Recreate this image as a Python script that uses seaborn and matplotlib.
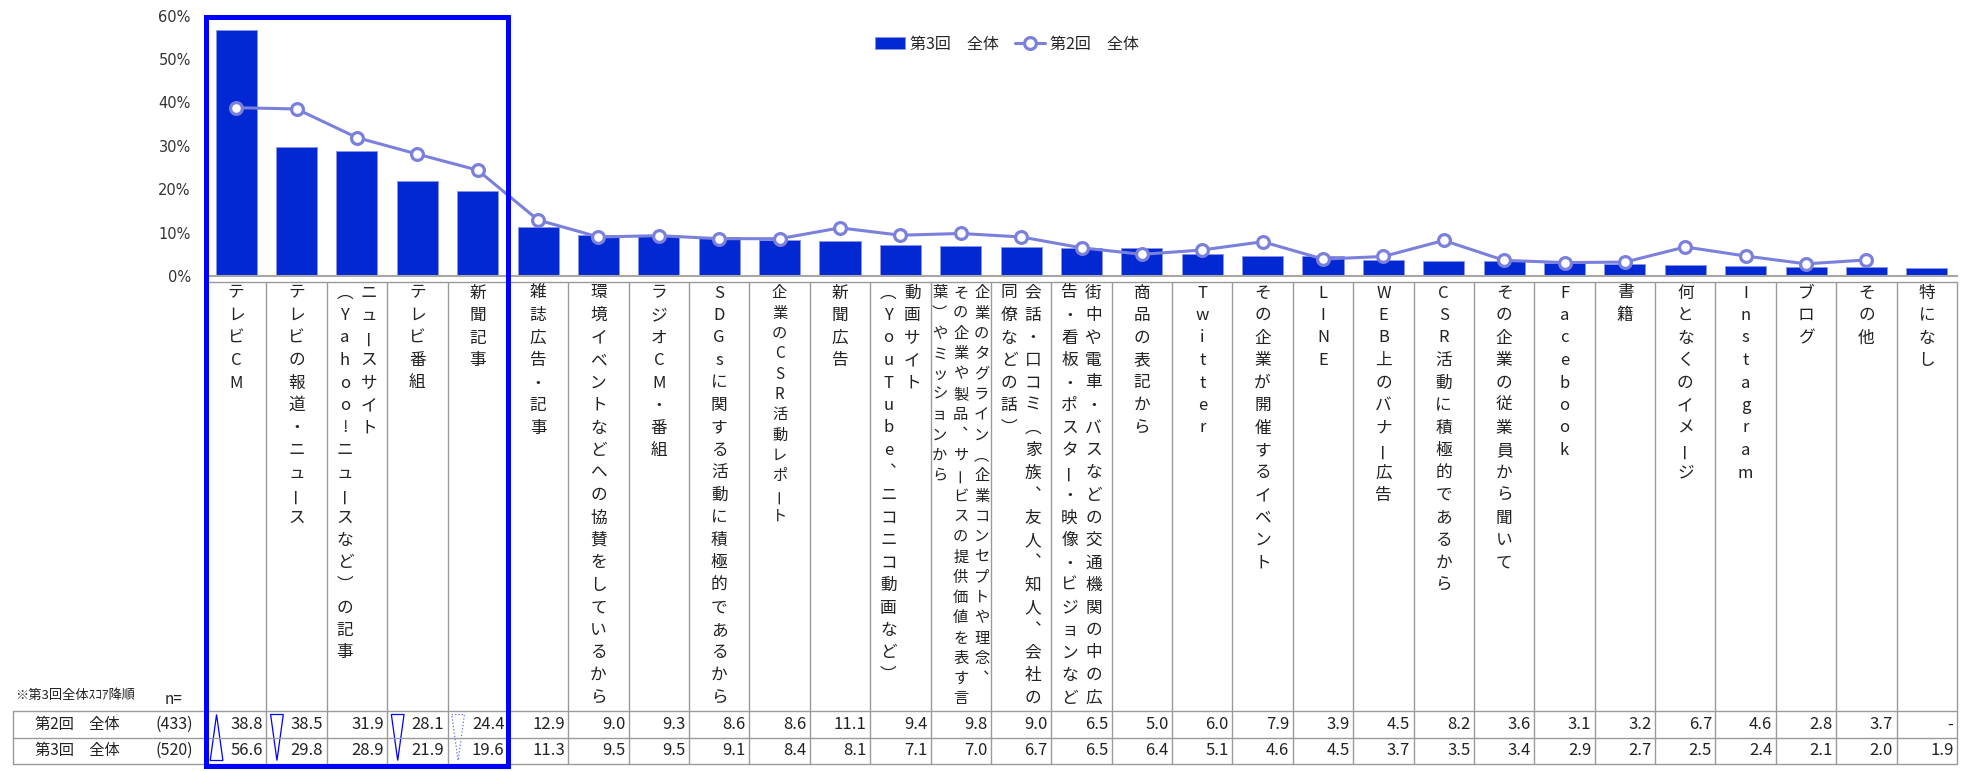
import numpy as np
import pandas as pd
import matplotlib
matplotlib.use("Agg")
import matplotlib.pyplot as plt
import seaborn as sns
from matplotlib import transforms as mtransforms
from matplotlib.patches import Polygon, Rectangle

# ------------------------------
# data
# ------------------------------
labels = [
    "テレビCM",
    "テレビの報道・ニュース",
    "ニュースサイト\n（Yahoo!ニュースなど）の記事",
    "テレビ番組",
    "新聞記事",
    "雑誌広告・記事",
    "環境イベントなどへの協賛をしているから",
    "ラジオCM・番組",
    "SDGsに関する活動に積極的であるから",
    "企業のCSR活動レポート",
    "新聞広告",
    "動画サイト\n（YouTube、ニコニコ動画など）",
    "企業のタグライン（企業コンセプトや理念、\nその企業や製品、サービスの提供価値を表す言\n葉）やミッションから",
    "会話・口コミ（家族、友人、知人、会社の\n同僚などの話）",
    "街中や電車・バスなどの交通機関の中の広\n告・看板・ポスター・映像・ビジョンなど",
    "商品の表記から",
    "Twitter",
    "その企業が開催するイベント",
    "LINE",
    "WEB上のバナー広告",
    "CSR活動に積極的であるから",
    "その企業の従業員から聞いて",
    "Facebook",
    "書籍",
    "何となくのイメージ",
    "Instagram",
    "ブログ",
    "その他",
    "特になし",
]

round3 = [56.6, 29.8, 28.9, 21.9, 19.6, 11.3, 9.5, 9.5, 9.1, 8.4, 8.1, 7.1, 7.0, 6.7,
          6.5, 6.4, 5.1, 4.6, 4.5, 3.7, 3.5, 3.4, 2.9, 2.7, 2.5, 2.4, 2.1, 2.0, 1.9]
round2 = [38.8, 38.5, 31.9, 28.1, 24.4, 12.9, 9.0, 9.3, 8.6, 8.6, 11.1, 9.4, 9.8, 9.0,
          6.5, 5.0, 6.0, 7.9, 3.9, 4.5, 8.2, 3.6, 3.1, 3.2, 6.7, 4.6, 2.8, 3.7, np.nan]

series_names = ["第3回　全体", "第2回　全体"]
row_headers = ["第2回　全体", "第3回　全体"]
n_counts = ["(433)", "(520)"]
note_text = "※第3回全体ｽｺｱ降順"

# significance marks (第3回 vs 第2回)
sig_marks = ["up", "down", "", "down", "weak"] + [""] * 24
small_labels = [9, 12]
n_highlight = 5

df = pd.DataFrame({"item": labels, "r3": round3, "r2": round2})

# ------------------------------
# style
# ------------------------------
sns.set_style("white")
plt.rcParams["font.family"] = ["Noto Sans CJK JP", "DejaVu Sans"]

BAR = "#0228D4"
LINE = "#7A80DC"
GRID = "#9a9a9a"
TXT = "#222222"

W, H = 1971, 771
fig = plt.figure(figsize=(W / 100, H / 100), dpi=100)
ax = fig.add_axes([206 / W, 1 - 276 / H, (1957 - 206) / W, (276 - 15.7) / H])

sns.barplot(data=df, x="item", y="r3", color=BAR, saturation=1, width=0.68,
            edgecolor="#8a96e6", linewidth=0.7, ax=ax, label=series_names[0])
sns.pointplot(data=df, x="item", y="r2", color=LINE, errorbar=None, markers="o",
              markersize=8.5, markeredgewidth=2.3, linewidth=2.2, ax=ax,
              label=series_names[1])
for ln in ax.lines:
    ln.set_markerfacecolor("white")
    ln.set_markeredgecolor(LINE)
if ax.get_legend() is not None:
    ax.get_legend().remove()

ax.set_xlim(-0.5, len(labels) - 0.5)
ax.set_ylim(0, 60)
ax.set_yticks(range(0, 61, 10))
ax.set_yticklabels([f"{v}%" for v in range(0, 61, 10)], fontfamily="DejaVu Sans",
                   fontsize=10.5, color="#333333")
ax.set_xticks([])
ax.set_xlabel("")
ax.set_ylabel("")
ax.tick_params(axis="y", length=3, color=GRID, pad=8)
for s in ["top", "right"]:
    ax.spines[s].set_visible(False)
ax.spines["bottom"].set_color("#a6a6a6")
ax.spines["bottom"].set_linewidth(1.5)
ax.spines["left"].set_color(GRID)

h, l = ax.get_legend_handles_labels()
order = [l.index(series_names[0]), l.index(series_names[1])]
fig.legend([h[i] for i in order], [l[i] for i in order], loc="center",
           bbox_to_anchor=(1007 / W, 1 - 44 / H), ncol=2, frameon=False,
           handlelength=1.9, handletextpad=0.3, columnspacing=1.0,
           prop={"size": 11.5})

# ------------------------------
# category label grid + table
# ------------------------------
pix = mtransforms.Affine2D().scale(1 / W, -1 / H).translate(0, 1) + fig.transFigure
tr = mtransforms.blended_transform_factory(ax.transData, pix)
n = len(labels)
x_lo, x_hi = -0.5, n - 0.5

top_grid, row1, row2, row3 = 282, 711, 737.5, 764
lk = dict(color=GRID, lw=1.0, transform=tr, clip_on=False)
ax.plot([x_lo, x_hi], [top_grid, top_grid], **lk)
for yy in [row1, row2, row3]:
    ax.plot([x_lo, x_hi], [yy, yy], **lk)
for k in range(n + 1):
    ax.plot([k - 0.5, k - 0.5], [top_grid, row3], **lk)
pk = dict(color=GRID, lw=1.0, transform=pix, clip_on=False)
for yy in [row1, row2, row3]:
    ax.plot([13, 206], [yy, yy], **pk)
ax.plot([13, 13], [row1, row3], **pk)

# vertical writing: brackets/commas use vertical forms, long vowel mark is rotated
VERT = {"（": "︵", "）": "︶", "、": "︑"}
for i, lab in enumerate(labels):
    lines = lab.split("\n")
    small = i in small_labels
    fs = 11 if small else 12
    step = 20.3 if small else 22.5
    dx_step = 21 if len(lines) >= 3 else 24
    for j, line in enumerate(lines):
        dx = ((len(lines) - 1) / 2 - j) * dx_step
        t = mtransforms.offset_copy(tr, fig=fig, x=dx, y=0, units="dots")
        for c, ch in enumerate(line):
            rot = 90 if ch == "ー" else 0
            ax.text(i, 293 + c * step, VERT.get(ch, ch), transform=t, ha="center",
                    va="center", fontsize=fs, color=TXT, clip_on=False,
                    rotation=rot, rotation_mode="anchor")

# values
row_y = [(row1 + row2) / 2, (row2 + row3) / 2]
for r, vals in enumerate([round2, round3]):
    t = mtransforms.offset_copy(tr, fig=fig, x=-3.5, y=0, units="dots")
    for i, v in enumerate(vals):
        s = "-" if np.isnan(v) else f"{v:.1f}"
        ax.text(i + 0.5, row_y[r], s, transform=t, ha="right", va="center",
                fontsize=12, color=TXT, clip_on=False)
    ax.text(35, row_y[r], row_headers[r], transform=pix, ha="left", va="center",
            fontsize=11, color=TXT)
    ax.text(193, row_y[r], n_counts[r], transform=pix, ha="right", va="center",
            fontsize=11.5, color=TXT)
ax.text(183, 699, "n=", transform=pix, ha="right", va="center", fontsize=11, color=TXT)
ax.text(15, 695, note_text, transform=pix, ha="left", va="center", fontsize=9.5, color=TXT)

# significance triangles
for i, m in enumerate(sig_marks):
    if not m:
        continue
    a, b, c = i - 0.5 + 0.07, i - 0.5 + 0.175, i - 0.5 + 0.28
    if m == "up":
        pts = [(b, row1 + 3.5), (c, row3 - 3.5), (a, row3 - 3.5)]
    else:
        pts = [(a, row1 + 3.5), (c, row1 + 3.5), (b, row3 - 3.5)]
    ls = ":" if m == "weak" else "-"
    col = "#5a6bff" if m == "weak" else "#0000FF"
    ax.add_patch(Polygon(pts, closed=True, fill=False, edgecolor=col, lw=0.9,
                         linestyle=ls, transform=tr, clip_on=False))

# highlight frame around the top items
ax.add_patch(Rectangle((x_lo, 16.5), n_highlight, 765.5 - 16.5, fill=False,
                       edgecolor="#0000FF", lw=3.6, transform=tr, clip_on=False,
                       zorder=10))

fig.savefig("out.png", dpi=100)
